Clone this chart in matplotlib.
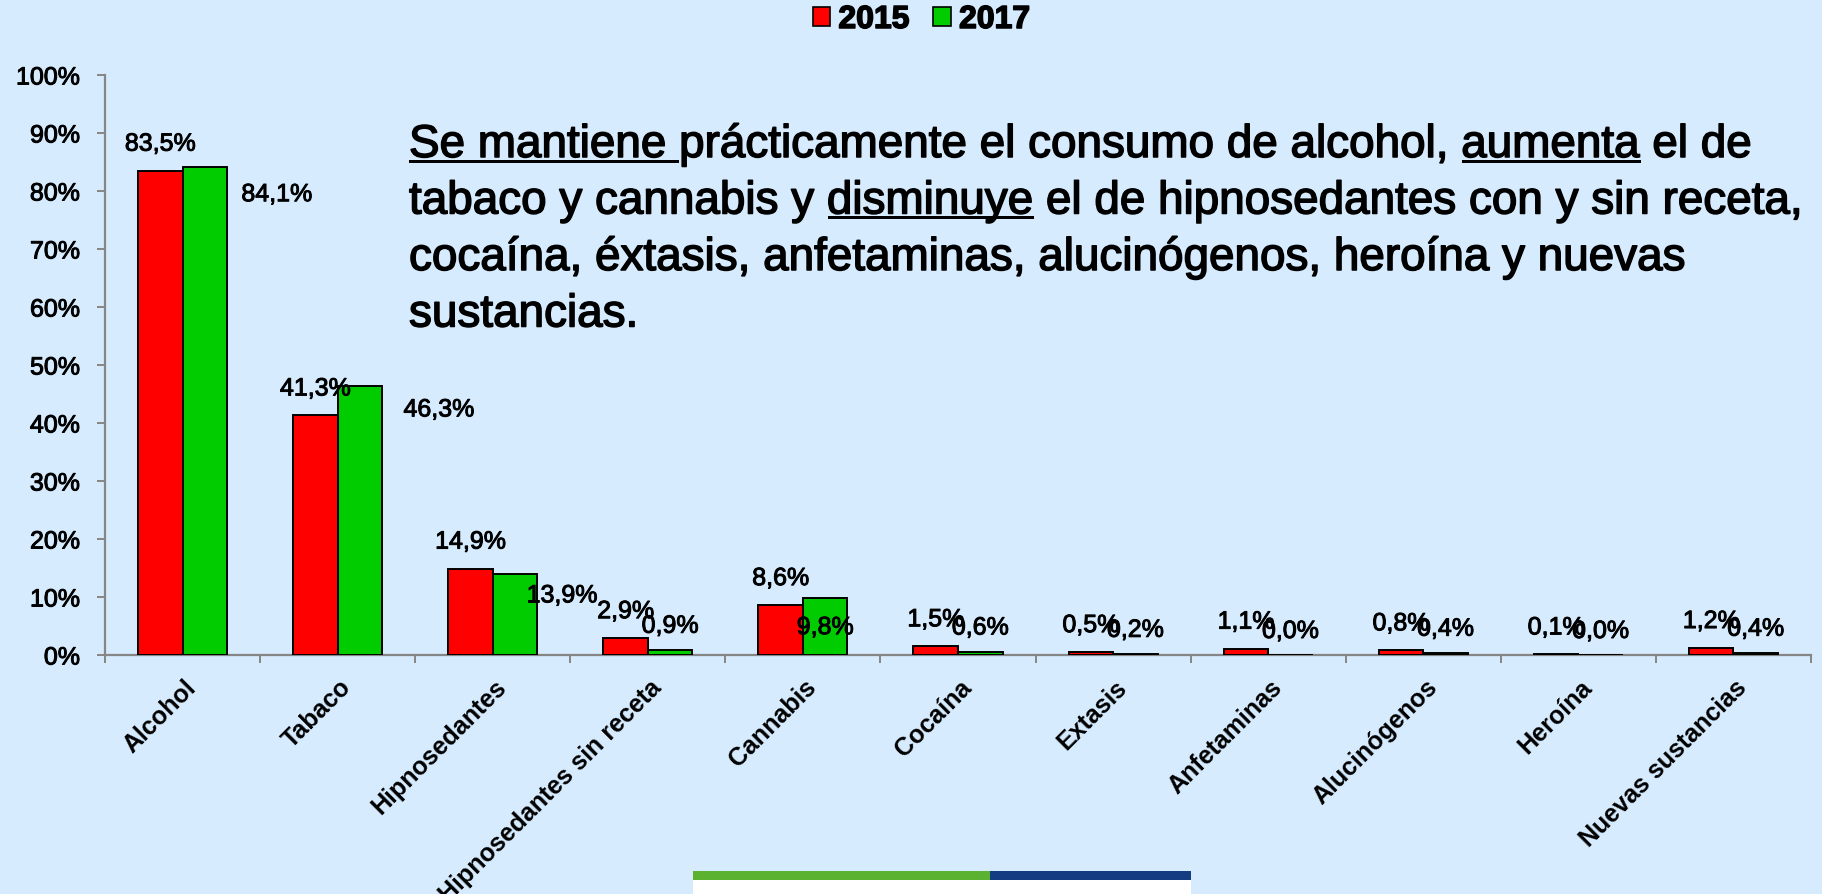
import matplotlib
matplotlib.use("Agg")
import matplotlib.pyplot as plt
import matplotlib.transforms as mtransforms
import matplotlib.patheffects as pe
from matplotlib.patches import Rectangle, Patch
from matplotlib.font_manager import FontProperties

# ---------------- data ----------------
categories = ["Alcohol", "Tabaco", "Hipnosedantes", "Hipnosedantes sin receta",
              "Cannabis", "Cocaína", "Extasis", "Anfetaminas", "Alucinógenos",
              "Heroína", "Nuevas sustancias"]
v2015 = [83.5, 41.3, 14.9, 2.9, 8.6, 1.5, 0.5, 1.1, 0.8, 0.1, 1.2]
v2017 = [84.1, 46.3, 13.9, 0.9, 9.8, 0.6, 0.2, 0.0, 0.4, 0.0, 0.4]
years = ["2015", "2017"]
yticks = list(range(0, 101, 10))

text_lines = [
    [("Se mantiene ", True), ("prácticamente el consumo de alcohol, ", False),
     ("aumenta", True), (" el de", False)],
    [("tabaco y cannabis y ", False), ("disminuye", True),
     (" el de hipnosedantes con y sin receta,", False)],
    [("cocaína, éxtasis, anfetaminas, alucinógenos, heroína y nuevas", False)],
    [("sustancias.", False)],
]

# label offsets in pixels (style/position, not data)
lab17_dx = [72, 79, 47, 0, 0, 0, 0, 0, 0, 0, 0]
lab17_dy = [-27, -23, -21, 24, -29, 24, 24, 24, 24, 24, 24]
lab15_dy = 27

# ---------------- style ----------------
W, H = 1822, 894
BG = "#D6EBFD"
RED = "#FF0000"
GREEN = "#00CC00"
GRAY = "#868686"
thick = [pe.withStroke(linewidth=0.7, foreground="black")]
thick_big = [pe.withStroke(linewidth=1.1, foreground="black")]

fig = plt.figure(figsize=(W / 100, H / 100), dpi=100, facecolor=BG)
ax = fig.add_axes([105 / W, 1 - 655 / H, (1811 - 105) / W, (655 - 75) / H])
ax.set_facecolor(BG)

n = len(categories)
bw = 0.287
xc = [i + 0.5 for i in range(n)]
ax.bar([x - bw / 2 for x in xc], v2015, width=bw, color=RED, edgecolor="black",
       linewidth=1.4, label=years[0], zorder=3)
ax.bar([x + bw / 2 for x in xc], v2017, width=bw, color=GREEN, edgecolor="black",
       linewidth=1.4, label=years[1], zorder=3)

ax.set_xlim(0, n)
ax.set_ylim(0, 100)
for s in ["top", "right"]:
    ax.spines[s].set_visible(False)
for s in ["left", "bottom"]:
    ax.spines[s].set_color(GRAY)
    ax.spines[s].set_linewidth(1.6)

ax.set_yticks(yticks)
ax.set_yticklabels([f"{t}%" for t in yticks], fontfamily="Liberation Sans", fontsize=18)
for lbl in ax.get_yticklabels():
    lbl.set_path_effects(thick)
ax.tick_params(axis="y", direction="out", length=6, width=1.4, color=GRAY, pad=12)
ax.set_xticks(range(n + 1))
ax.set_xticklabels([])
ax.tick_params(axis="x", direction="out", length=6, width=1.4, color=GRAY)

# x labels
lab_tr = mtransforms.offset_copy(ax.get_xaxis_transform(), fig=fig, x=10, y=-29, units="dots")
for x, c in zip(xc, categories):
    ax.text(x, 0, c, transform=lab_tr, rotation=45, rotation_mode="anchor",
            ha="right", va="center", fontfamily="Liberation Sans",
            fontweight="bold", fontsize=18)

# data labels
def fmt(v):
    return f"{v:.1f}".replace(".", ",") + "%"

for i, (x, a, b) in enumerate(zip(xc, v2015, v2017)):
    ax.annotate(fmt(a), (x - bw / 2, a), xytext=(0, lab15_dy), textcoords="offset pixels",
                ha="center", va="center", fontfamily="Liberation Sans", fontsize=18,
                zorder=5, path_effects=thick)
    ax.annotate(fmt(b), (x + bw / 2, b), xytext=(lab17_dx[i], lab17_dy[i]),
                textcoords="offset pixels", ha="center", va="center",
                fontfamily="Liberation Sans", fontsize=18, zorder=5, path_effects=thick)

# legend
handles = [Patch(facecolor=RED, edgecolor="black", linewidth=1.2),
           Patch(facecolor=GREEN, edgecolor="black", linewidth=1.2)]
leg = fig.legend(handles, years, loc="center", bbox_to_anchor=(921.5 / W, 1 - 20 / H),
                 ncol=2, frameon=False, handlelength=0.55, handleheight=0.55,
                 handletextpad=0.25, columnspacing=0.75, borderpad=0,
                 prop=FontProperties(family="Liberation Sans", weight="bold", size=23))
for t in leg.get_texts():
    t.set_path_effects(thick_big)

# big text block with underlines
fp = FontProperties(family="Liberation Sans", size=33)
renderer = fig.canvas.get_renderer()

def adv(s):
    if not s:
        return 0.0
    t1 = fig.text(0, 0, s + "x", fontproperties=fp)
    t2 = fig.text(0, 0, "x", fontproperties=fp)
    w = t1.get_window_extent(renderer).width - t2.get_window_extent(renderer).width
    t1.remove(); t2.remove()
    return w

x0 = 409
baselines = [157, 213.5, 270, 326.5]
for line, yb in zip(text_lines, baselines):
    full = "".join(s for s, _ in line)
    fig.text(x0 / W, 1 - yb / H, full, fontproperties=fp, ha="left", va="baseline",
             path_effects=thick_big)
    prefix = ""
    for seg, ul in line:
        if ul:
            xs = x0 + adv(prefix)
            xe = x0 + adv(prefix + seg)
            fig.add_artist(Rectangle((xs / W, 1 - (yb + 6) / H), (xe - xs) / W, 3.5 / H,
                                     transform=fig.transFigure, color="black", lw=0))
        prefix += seg

# bottom logo strip
fig.add_artist(Rectangle((693 / W, 0), (1191 - 693) / W, (894 - 880) / H,
                         transform=fig.transFigure, color="white", lw=0))
fig.add_artist(Rectangle((693 / W, 1 - 880 / H), (990 - 693) / W, 9 / H,
                         transform=fig.transFigure, color="#5BB130", lw=0))
fig.add_artist(Rectangle((990 / W, 1 - 880 / H), (1191 - 990) / W, 9 / H,
                         transform=fig.transFigure, color="#143C82", lw=0))

fig.savefig("out.png", dpi=100, facecolor=BG)
